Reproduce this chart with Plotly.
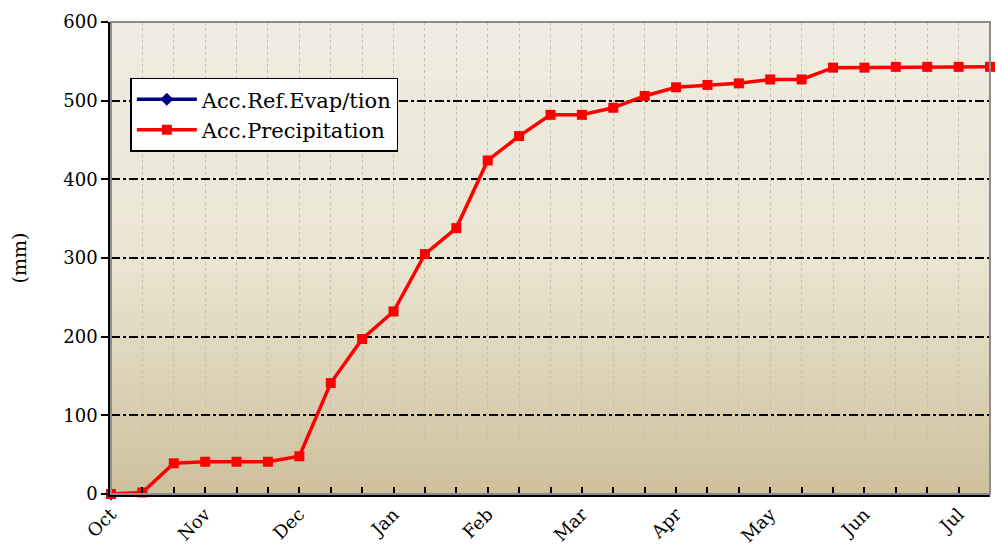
import plotly.graph_objects as go

# ---- data ----
periods = list(range(29))
month_labels = ["Oct", "", "", "Nov", "", "", "Dec", "", "", "Jan", "", "", "Feb", "", "",
                "Mar", "", "", "Apr", "", "", "May", "", "", "Jun", "", "", "Jul", ""]
acc_precip = [0, 2, 39, 41, 41, 41, 48, 141, 197, 232, 305, 338, 424, 455, 482, 482,
              491, 506, 517, 520, 522, 527, 527, 542, 542, 543, 543, 543, 543]
evap_periods = [0]
acc_evap = [0]

FONT = "DejaVu Serif"

fig = go.Figure()
fig.add_trace(go.Scatter(
    x=evap_periods, y=acc_evap, name="Acc.Ref.Evap/tion", mode="lines+markers",
    line=dict(color="#000080", width=3.5), marker=dict(symbol="diamond", size=10, color="#000080"),
    cliponaxis=False))
fig.add_trace(go.Scatter(
    x=periods, y=acc_precip, name="Acc.Precipitation", mode="lines+markers",
    line=dict(color="#ff0000", width=3.5), marker=dict(symbol="square", size=10, color="#ff0000"),
    cliponaxis=False))

# background gradient (styling only)
def lerp(a, b, t):
    return tuple(round(a[i] + (b[i] - a[i]) * t) for i in range(3))
top = (239, 237, 226)
mid = (234, 229, 210)
bot = (206, 192, 156)
N = 80
shapes = []
for i in range(N):
    f = (i + 0.5) / N  # 0 bottom -> 1 top
    if f > 0.5:
        c = lerp(mid, top, (f - 0.5) / 0.5)
    else:
        c = lerp(bot, mid, f / 0.5)
    shapes.append(dict(type="rect", xref="x domain", yref="y domain",
                       x0=0, x1=1, y0=i / N, y1=(i + 1) / N + 0.002,
                       fillcolor="rgb(%d,%d,%d)" % c, line=dict(width=0), layer="below"))
# plot border (gray top/right)
shapes.append(dict(type="rect", xref="x domain", yref="y domain", x0=0, x1=1, y0=0, y1=1,
                   line=dict(color="#8c8c8c", width=2), layer="above"))

fig.update_layout(
    width=997, height=547, autosize=False,
    margin=dict(l=111, r=7, t=22, b=53),
    paper_bgcolor="white", plot_bgcolor="rgba(0,0,0,0)",
    font=dict(family=FONT, size=19, color="black"),
    shapes=shapes,
    showlegend=True,
    legend=dict(x=0.022, y=0.882, xanchor="left", yanchor="top",
                bgcolor="white", bordercolor="black", borderwidth=1.5,
                font=dict(family=FONT, size=21), tracegroupgap=0, itemwidth=60),
)
fig.update_xaxes(
    range=[0, 28], tickmode="array", tickvals=periods, ticktext=month_labels,
    tickangle=-45, ticks="inside", ticklen=7, tickwidth=2, tickcolor="black",
    showline=True, linecolor="black", linewidth=2.5, mirror=False, automargin=False,
    showgrid=True, gridcolor="#c4bfae", griddash="dot", gridwidth=1,
    zeroline=False, tickfont=dict(family=FONT, size=18))
fig.update_yaxes(
    range=[0, 600], tickvals=[0, 100, 200, 300, 400, 500, 600],
    ticks="outside", ticklen=7, tickwidth=1.5, tickcolor="black", automargin=False,
    showline=True, linecolor="black", linewidth=2.5,
    showgrid=True, gridcolor="black", griddash="dashdot", gridwidth=1.5,
    zeroline=False, tickfont=dict(family=FONT, size=18),
    title=dict(text="(mm)", font=dict(family=FONT, size=19), standoff=32))

fig.write_html("out.html", config={"responsive": False, "displayModeBar": False},
               post_script="document.body.style.margin='0';document.body.style.overflow='hidden';")
